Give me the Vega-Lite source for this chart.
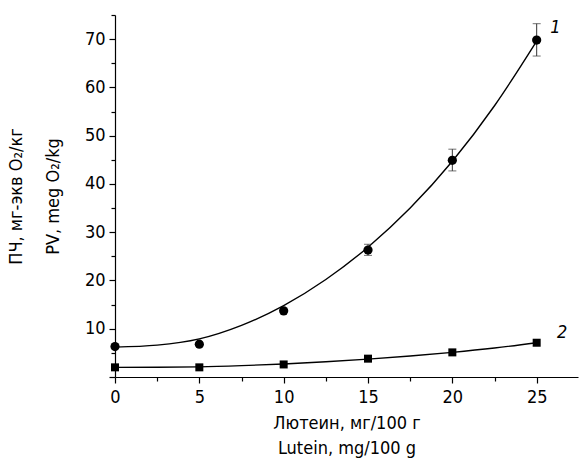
{
  "$schema": "https://vega.github.io/schema/vega-lite/v6.json",
  "width": 463,
  "height": 362,
  "autosize": {"type": "none"},
  "padding": {"left": 115, "top": 15, "right": 1, "bottom": 82},
  "background": "white",
  "config": {
    "view": {"stroke": null},
    "font": "Liberation Sans Narrow, DejaVu Sans Condensed, sans-serif",
    "axis": {
      "grid": false,
      "domainColor": "black",
      "tickColor": "black",
      "labelColor": "black",
      "titleColor": "black",
      "labelFont": "Liberation Sans Narrow, DejaVu Sans Condensed, sans-serif",
      "titleFont": "Liberation Sans Narrow, DejaVu Sans Condensed, sans-serif",
      "labelFontSize": 18,
      "titleFontSize": 18,
      "titleFontWeight": "normal",
      "domainWidth": 1.2,
      "tickWidth": 1.2
    }
  },
  "datasets": {
    "pts": [
      {"series": "1", "x": 0, "y": 6.3, "lo": null, "hi": null},
      {"series": "1", "x": 5, "y": 6.8, "lo": null, "hi": null},
      {"series": "1", "x": 10, "y": 13.7, "lo": null, "hi": null},
      {"series": "1", "x": 15, "y": 26.3, "lo": 25.2, "hi": 27.5},
      {"series": "1", "x": 20, "y": 44.9, "lo": 42.7, "hi": 47.2},
      {"series": "1", "x": 25, "y": 69.8, "lo": 66.5, "hi": 73.2},
      {"series": "2", "x": 0, "y": 2.0, "lo": null, "hi": null},
      {"series": "2", "x": 5, "y": 2.0, "lo": null, "hi": null},
      {"series": "2", "x": 10, "y": 2.6, "lo": null, "hi": null},
      {"series": "2", "x": 15, "y": 3.8, "lo": null, "hi": null},
      {"series": "2", "x": 20, "y": 5.1, "lo": null, "hi": null},
      {"series": "2", "x": 25, "y": 7.1, "lo": null, "hi": null}
    ],
    "fit": [
      {"series": "1", "x": 0, "y": 6.2},
      {"series": "1", "x": 2.5, "y": 6.6},
      {"series": "1", "x": 5, "y": 7.9},
      {"series": "1", "x": 7.5, "y": 10.7},
      {"series": "1", "x": 10, "y": 14.8},
      {"series": "1", "x": 12.5, "y": 20.2},
      {"series": "1", "x": 15, "y": 26.9},
      {"series": "1", "x": 17.5, "y": 35.0},
      {"series": "1", "x": 20, "y": 44.7},
      {"series": "1", "x": 22.5, "y": 56.2},
      {"series": "1", "x": 25, "y": 69.6},
      {"series": "2", "x": 0, "y": 2.0},
      {"series": "2", "x": 2.5, "y": 2.02},
      {"series": "2", "x": 5, "y": 2.1},
      {"series": "2", "x": 7.5, "y": 2.35},
      {"series": "2", "x": 10, "y": 2.7},
      {"series": "2", "x": 12.5, "y": 3.15},
      {"series": "2", "x": 15, "y": 3.7},
      {"series": "2", "x": 17.5, "y": 4.35},
      {"series": "2", "x": 20, "y": 5.1},
      {"series": "2", "x": 22.5, "y": 6.0},
      {"series": "2", "x": 25, "y": 7.1}
    ],
    "labels": [
      {"x": 25.8, "y": 72.3, "text": "1"},
      {"x": 26.2, "y": 9.2, "text": "2"}
    ]
  },
  "encoding": {
    "x": {
      "field": "x", "type": "quantitative",
      "scale": {"domain": [0, 27.45], "nice": false, "zero": false},
      "axis": {
        "title": ["Лютеин, мг/100 г", "Lutein, mg/100 g"],
        "titleLineHeight": 25,
        "titlePadding": 8,
        "values": [0, 2.5, 5, 7.5, 10, 12.5, 15, 17.5, 20, 22.5, 25, 27.5],
        "labelExpr": "datum.value % 5 === 0 ? datum.label : ''",
        "tickSize": {"condition": {"test": "datum.value % 5 !== 0", "value": 4}, "value": 6},
        "labelPadding": 5,
        "labelFlush": false
      }
    },
    "y": {
      "field": "y", "type": "quantitative",
      "scale": {"domain": [0, 75], "nice": false, "zero": false},
      "axis": {
        "title": ["ПЧ, мг-экв O₂/кг", "PV, meg O₂/kg"],
        "titleLineHeight": 37,
        "titlePadding": 22,
        "values": [0, 5, 10, 15, 20, 25, 30, 35, 40, 45, 50, 55, 60, 65, 70, 75],
        "labelExpr": "datum.value % 10 === 0 && datum.value > 0 ? datum.label : ''",
        "tickSize": {"condition": {"test": "datum.value % 10 !== 0", "value": 4}, "value": 6},
        "labelPadding": 4,
        "labelFlush": false
      }
    }
  },
  "layer": [
    {
      "data": {"name": "fit"},
      "mark": {"type": "line", "interpolate": "monotone", "color": "black", "strokeWidth": 1.4},
      "encoding": {"detail": {"field": "series"}}
    },
    {
      "data": {"name": "pts"},
      "transform": [{"filter": "datum.lo != null"}],
      "mark": {"type": "rule", "color": "#333", "strokeWidth": 1},
      "encoding": {"y": {"field": "lo", "type": "quantitative"}, "y2": {"field": "hi"}}
    },
    {
      "data": {"name": "pts"},
      "transform": [{"filter": "datum.lo != null"}],
      "mark": {"type": "tick", "orient": "horizontal", "color": "#333", "size": 8, "thickness": 1},
      "encoding": {"y": {"field": "lo", "type": "quantitative"}}
    },
    {
      "data": {"name": "pts"},
      "transform": [{"filter": "datum.lo != null"}],
      "mark": {"type": "tick", "orient": "horizontal", "color": "#333", "size": 8, "thickness": 1},
      "encoding": {"y": {"field": "hi", "type": "quantitative"}}
    },
    {
      "data": {"name": "pts"},
      "transform": [{"filter": "datum.series === '1'"}],
      "mark": {"type": "point", "shape": "circle", "filled": true, "color": "black", "size": 85, "opacity": 1}
    },
    {
      "data": {"name": "pts"},
      "transform": [{"filter": "datum.series === '2'"}],
      "mark": {"type": "point", "shape": "square", "filled": true, "color": "black", "size": 64, "opacity": 1}
    },
    {
      "data": {"name": "labels"},
      "mark": {"type": "text", "fontStyle": "italic", "fontSize": 18, "color": "black", "align": "left", "baseline": "middle", "font": "Liberation Sans Narrow, DejaVu Sans Condensed, sans-serif"},
      "encoding": {"text": {"field": "text"}}
    }
  ]
}
